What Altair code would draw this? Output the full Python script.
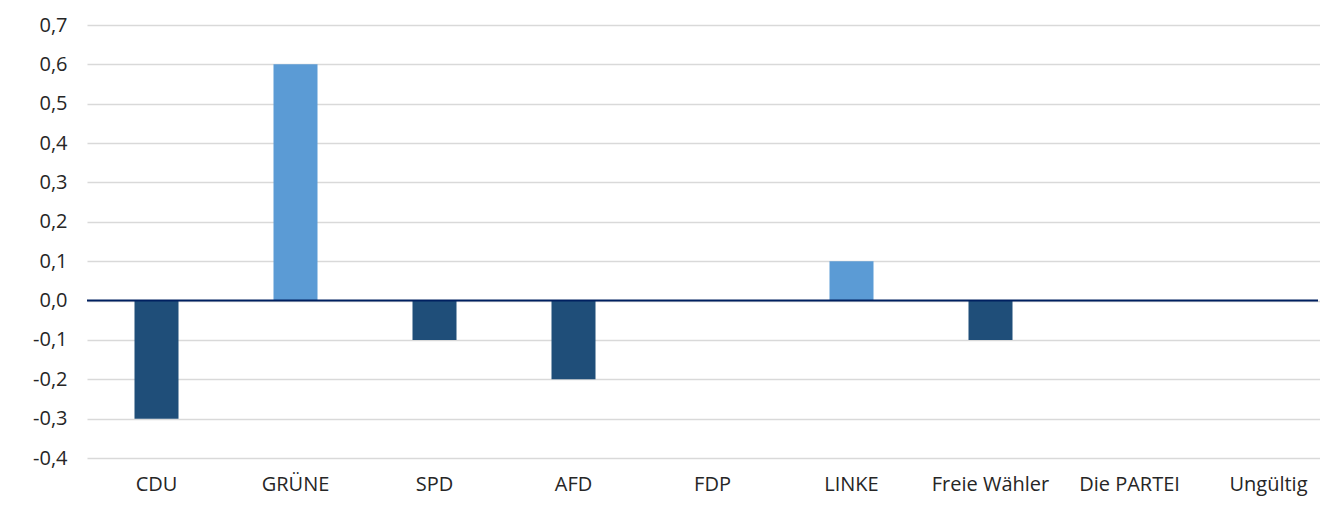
import altair as alt
import pandas as pd

parties = ["CDU", "GRÜNE", "SPD", "AFD", "FDP", "LINKE", "Freie Wähler", "Die PARTEI", "Ungültig"]
changes = [-0.3, 0.6, -0.1, -0.2, 0.0, 0.1, -0.1, 0.0, 0.0]
y_ticks = [-0.4, -0.3, -0.2, -0.1, 0.0, 0.1, 0.2, 0.3, 0.4, 0.5, 0.6, 0.7]

df = pd.DataFrame({"party": parties, "value": changes})

FONT = "Open Sans"
label_expr = "replace(replace(format(datum.value, '.1f'), '.', ','), '\u2212', '-')"

y_scale = alt.Scale(domain=[-0.4, 0.7], nice=False, zero=False)
y_axis = alt.Axis(values=y_ticks, labelExpr=label_expr, domain=False, ticks=False,
                  labelOverlap=False, labelPadding=20, labelFontSize=20,
                  labelColor="#262626", labelFont=FONT, title=None,
                  grid=True, gridColor="#d9d9d9", gridWidth=1.5)

bars = alt.Chart(df).mark_bar(size=44).encode(
    x=alt.X("party:N", sort=parties, title=None,
            scale=alt.Scale(range=[0, 1251], paddingInner=0, paddingOuter=0),
            axis=alt.Axis(labelAngle=0, domain=False, ticks=False, labelPadding=16,
                          labelFontSize=20, labelColor="#262626", labelFont=FONT)),
    y=alt.Y("value:Q", title=None, scale=y_scale, axis=y_axis),
    color=alt.condition("datum.value < 0", alt.value("#1F4E79"), alt.value("#5B9BD5")),
)

zero = alt.Chart(pd.DataFrame({"value": [0.0]})).mark_rule(color="#002060", strokeWidth=2).encode(
    y=alt.Y("value:Q", title=None, scale=y_scale, axis=y_axis)
)

chart = alt.layer(bars, zero).properties(
    width=1231, height=433,
    autosize=alt.AutoSizeParams(type="none"),
    padding={"left": 79, "top": 17, "right": 2, "bottom": 47},
).configure_view(stroke=None)

chart.save("out.html", embed_options={"renderer": "svg", "actions": False})
